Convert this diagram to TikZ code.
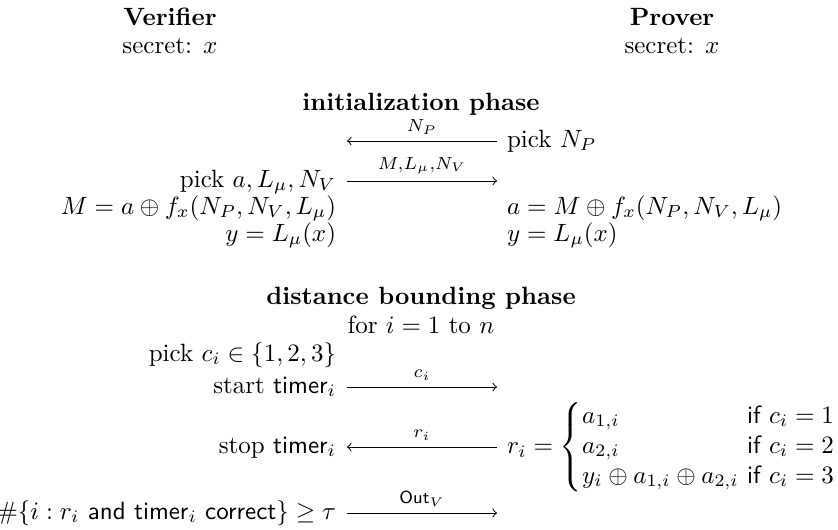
\documentclass[tikz,border=0pt]{standalone}
\usepackage{amsmath,amssymb}
\begin{document}
\begin{tikzpicture}[x=0.4pt,y=-0.4pt,
  txt/.style={inner sep=0pt,outer sep=0pt},
  lbl/.style={inner sep=0pt,above=2.5pt}]
\useasboundingbox (0,0) rectangle (838,529);
% headers
\node[txt,anchor=base] (ver) at (170,25) {\textbf{Verifier}};
\node[txt,anchor=base] (vsec) at (170,53) {secret: $x$};
\node[txt,anchor=base] (prv) at (672,25) {\textbf{Prover}};
\node[txt,anchor=base] (psec) at (672,53) {secret: $x$};
% initialization
\node[txt,anchor=base] (init) at (421,110) {\textbf{initialization phase}};
\coordinate (a1l) at (347,141);
\coordinate (a1r) at (497,141);
\draw[to-] (a1l) -- node[lbl] (l1) {$\scriptstyle N_P$} (a1r);
\node[txt,anchor=base west] (pnp) at (507,147) {pick $N_P$};
\coordinate (a2l) at (347,181);
\coordinate (a2r) at (497,181);
\draw[-to] (a2l) -- node[lbl] (l2) {$\scriptstyle M,L_\mu,N_V$} (a2r);
\node[txt,anchor=base east] (pa) at (336,187) {pick $a, L_\mu, N_V$};
\node[txt,anchor=base east] (vm) at (336,214) {$M = a \oplus f_x(N_P, N_V, L_\mu)$};
\node[txt,anchor=base east] (vy) at (336,241) {$y = L_\mu(x)$};
\node[txt,anchor=base west] (pm) at (507,214) {$a = M \oplus f_x(N_P, N_V, L_\mu)$};
\node[txt,anchor=base west] (py) at (507,241) {$y = L_\mu(x)$};
% distance bounding
\node[txt,anchor=base] (dbp) at (421,304) {\textbf{distance bounding phase}};
\node[txt,anchor=base] (loop) at (421,333) {for $i = 1$ to $n$};
\node[txt,anchor=base east] (pc) at (336,361) {pick $c_i \in \{1,2,3\}$};
\node[txt,anchor=base east] (st) at (336,393) {start $\textsf{timer}_i$};
\coordinate (a3l) at (347,387);
\coordinate (a3r) at (497,387);
\draw[-to] (a3l) -- node[lbl] (l3) {$\scriptstyle c_i$} (a3r);
\node[txt,anchor=base east] (sp) at (336,453) {stop $\textsf{timer}_i$};
\coordinate (a4l) at (347,447);
\coordinate (a4r) at (497,447);
\draw[to-] (a4l) -- node[lbl] (l4) {$\scriptstyle r_i$} (a4r);
\node[txt,anchor=west] (ri) at (507,447) {$r_i = \left\{\begin{array}{@{}l@{\ }l@{}}
  a_{1,i} & \textsf{if } c_i = 1\\
  a_{2,i} & \textsf{if } c_i = 2\\
  y_i \oplus a_{1,i} \oplus a_{2,i} & \textsf{if } c_i = 3
\end{array}\right.$};
\node[txt,anchor=base east] (cnt) at (336,519) {$\#\{i : r_i \text{ \textsf{and} } \textsf{timer}_i \text{ \textsf{correct}}\} \geq \tau$};
\coordinate (a5l) at (347,513);
\coordinate (a5r) at (497,513);
\draw[-to] (a5l) -- node[lbl] (l5) {$\scriptstyle \textsf{Out}_V$} (a5r);
\end{tikzpicture}
\end{document}
